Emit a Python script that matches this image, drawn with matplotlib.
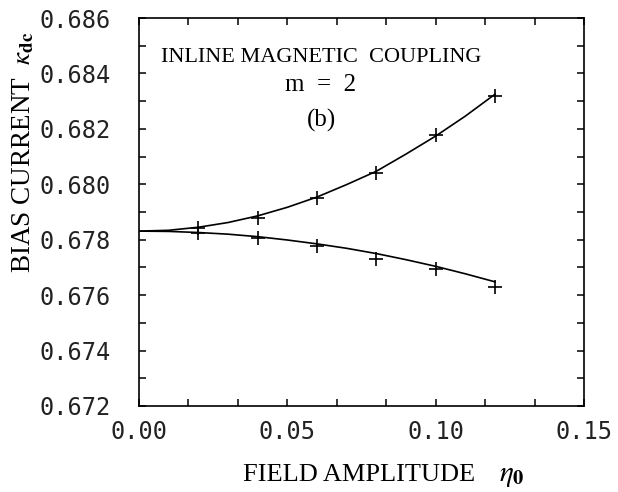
import matplotlib
matplotlib.use("Agg")
import matplotlib.pyplot as plt
import numpy as np
from matplotlib.ticker import MultipleLocator

plt.rcParams['mathtext.fontset'] = 'stix'

# measured points (field amplitude eta_0, bias current kappa_dc)
eta_pts = [0.02, 0.04, 0.06, 0.08, 0.10, 0.12]
kappa_upper_pts = [0.67842, 0.67880, 0.67949, 0.68039, 0.68178, 0.68318]
kappa_lower_pts = [0.67823, 0.67807, 0.67779, 0.67732, 0.67693, 0.67630]

# smooth curves every 0.01
eta_curve = [0.00, 0.01, 0.02, 0.03, 0.04, 0.05, 0.06, 0.07, 0.08, 0.09, 0.10, 0.11, 0.12]
kappa_upper_curve = [0.67831, 0.67834, 0.67845, 0.67862, 0.67886, 0.67917, 0.67954,
                     0.67999, 0.68047, 0.68109, 0.68174, 0.68246, 0.68325]
kappa_lower_curve = [0.67831, 0.67830, 0.67826, 0.67820, 0.67811, 0.67799, 0.67785,
                     0.67769, 0.67750, 0.67728, 0.67704, 0.67677, 0.67648]

xticks = [0.00, 0.05, 0.10, 0.15]
xticklabels = ['0.00', '0.05', '0.10', '0.15']
yticks = [0.672, 0.674, 0.676, 0.678, 0.680, 0.682, 0.684, 0.686]

fig = plt.figure(figsize=(6.18, 4.92), dpi=100)
ax = fig.add_axes([0.2249, 0.1748, 0.9450 - 0.2249, 0.9634 - 0.1748])

ax.plot(eta_curve, kappa_upper_curve, color='black', lw=1.2)
ax.plot(eta_curve, kappa_lower_curve, color='black', lw=1.2)
ax.plot(eta_pts, kappa_upper_pts, ls='none', marker='+', ms=10, mew=1.2, color='black')
ax.plot(eta_pts, kappa_lower_pts, ls='none', marker='+', ms=10, mew=1.2, color='black')

ax.set_xlim(0.0, 0.15)
ax.set_ylim(0.672, 0.686)
ax.set_xticks(xticks)
ax.set_xticklabels(xticklabels)
ax.set_yticks(yticks)
ax.set_yticklabels([f'{v:.3f}' for v in yticks])
ax.xaxis.set_minor_locator(MultipleLocator(0.05 / 3))
ax.yaxis.set_minor_locator(MultipleLocator(0.001))

ax.tick_params(which='both', direction='in', top=True, right=True,
               length=5, width=1.1, labelright=False, labeltop=False)
ax.tick_params(axis='x', which='both', pad=10, labelsize=17)
ax.tick_params(axis='y', which='both', pad=20, labelsize=17)
for lab in ax.get_xticklabels() + ax.get_yticklabels():
    lab.set_family('DejaVu Sans Mono')
    lab.set_color('#222222')

for s in ax.spines.values():
    s.set_linewidth(1.2)

ax.text(0.409, 0.8995, 'INLINE MAGNETIC  COUPLING', transform=ax.transAxes,
        ha='center', va='center', fontsize=16, family='Liberation Serif')
ax.text(0.409, 0.827, 'm  =  2', transform=ax.transAxes,
        ha='center', va='center', fontsize=18, family='Liberation Serif')
ax.text(0.409, 0.737, '(b)', transform=ax.transAxes,
        ha='center', va='center', fontsize=18, family='Liberation Serif')

fig.text(475 / 618, 1 - 475 / 492, 'FIELD AMPLITUDE', ha='right', va='center',
         fontsize=19, family='Liberation Serif')
fig.text(499 / 618, 1 - 475 / 492, r'$\eta_{\mathbf{0}}$', ha='left', va='center',
         fontsize=21)
fig.text(24 / 618, 1 - 152 / 492, r'BIAS CURRENT  $\kappa_{\mathbf{dc}}$', rotation=90,
         ha='center', va='center', fontsize=19.5, family='Liberation Serif')

fig.savefig('out.png', dpi=100, facecolor='white')
